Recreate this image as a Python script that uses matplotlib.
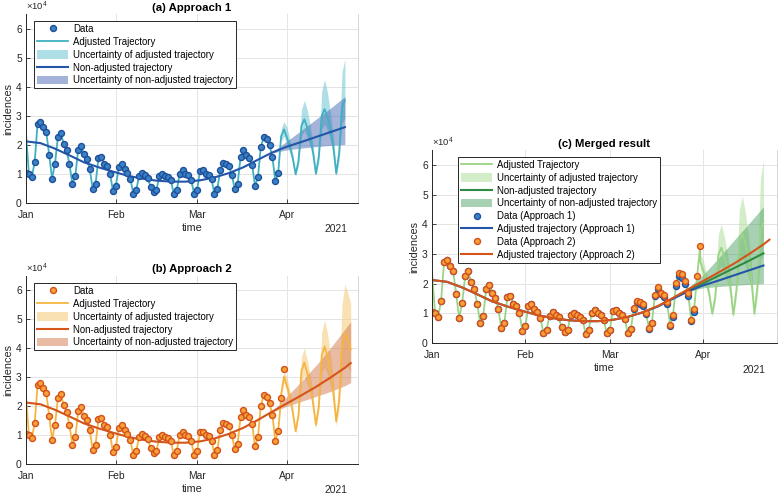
import numpy as np
import pandas as pd
import matplotlib
matplotlib.use("Agg")
import matplotlib.pyplot as plt
import matplotlib.dates as mdates
from matplotlib.lines import Line2D
from matplotlib.patches import Patch

plt.rcParams['font.family'] = ['Liberation Sans', 'DejaVu Sans']
plt.rcParams['mathtext.fontset'] = 'custom'
plt.rcParams['mathtext.rm'] = 'Liberation Sans'

# all values in thousands of incidences
# daily data, approach 1: 2021-01-01 .. 2021-03-29
data1 = [10.3, 10.1, 8.8, 14.1, 27.3, 27.9, 26.1, 24.4, 16.6, 8.4, 13.5, 22.6, 24.1, 20.4, 18.1, 13.3,
         6.6, 9.2, 18.3, 19.5, 16.7, 15.1, 11.6, 4.9, 6.6, 15.5, 15.8, 13.3, 12.6, 10.1, 4.1,
         5.8, 12.4, 13.3, 11.6, 10.3, 8.4, 3.2, 4.4, 9.2, 10.3, 9.5, 8.6, 5.5, 3.8, 4.4, 9.3,
         10.1, 9.3, 8.9, 7.8, 3.0, 4.4, 10.1, 11.2, 10.1, 9.5, 7.8, 3.2,
         4.4, 10.9, 11.2, 10.1, 9.5, 8.1, 3.2, 4.7, 11.5, 13.9, 13.3, 12.6, 9.7, 4.8, 6.6, 15.8,
         18.1, 16.4, 15.6, 13.2, 5.8, 8.9, 19.3, 22.7, 21.9, 19.8, 15.8, 7.5, 10.3]
# daily data, approach 2: 2021-01-01 .. 2021-03-31 (later days revised)
data2 = data1[:67] + [11.8, 14.2, 13.7, 13.0, 10.1, 5.1, 6.9, 16.3, 18.7, 17.0, 16.2, 13.8, 6.2,
                      9.3, 20.1, 23.7, 23.1, 21.0, 16.8, 7.9, 11.4, 22.6, 32.6]

# adjusted trajectories: fitted start value + forecast part
adj1_start, adj2_start, adjc_start = 23.9, 23.5, 23.8
# approach 1 forecast 2021-03-30 .. 2021-04-21
adj1_fc = [23.0, 25.3, 22.5, 19.5, 15.5, 9.9, 14.5, 26.5, 28.8, 26.0, 22.5, 17.5, 10.1, 16.0,
           30.0, 32.3, 29.5, 25.5, 19.5, 10.2, 17.0, 33.0, 35.3]
adj1_hi = [25.5, 28.0, 26.0, 22.0, 17.0, 10.5, 16.5, 32.0, 35.3, 32.0, 27.0, 20.0, 11.0, 18.5,
           38.5, 42.5, 38.0, 31.0, 23.0, 11.5, 20.5, 45.0, 49.5]
adj1_lo = [21.0, 23.0, 20.0, 17.5, 14.0, 9.3, 13.0, 23.0, 25.0, 22.5, 19.5, 15.5, 9.3, 14.0,
           25.5, 27.0, 25.0, 21.5, 16.5, 9.2, 14.5, 27.5, 29.0]
# approach 2 forecast 2021-03-30 .. 2021-04-23
adj2_fc = [24.0, 30.2, 27.0, 23.0, 18.0, 11.3, 17.0, 32.0, 35.0, 31.5, 27.5, 21.0, 13.5, 20.0,
           37.5, 40.5, 37.0, 32.0, 25.0, 14.7, 22.0, 41.0, 45.0, 43.0, 39.5]
adj2_hi = [25.0, 32.0, 30.0, 25.5, 20.0, 12.0, 19.0, 37.0, 40.0, 36.0, 31.0, 24.0, 14.5, 23.0,
           45.5, 49.7, 45.0, 38.0, 29.0, 16.0, 26.0, 55.0, 62.0, 59.0, 55.5]
adj2_lo = [23.0, 28.0, 24.5, 21.0, 16.5, 10.5, 15.5, 28.0, 30.5, 27.5, 24.5, 18.5, 12.3, 18.0,
           31.5, 33.5, 31.0, 27.0, 21.5, 13.2, 19.0, 32.0, 34.5, 33.5, 31.5]
# merged forecast 2021-03-31 .. 2021-04-21
adjc_fc = [27.4, 24.5, 21.0, 16.5, 9.9, 15.5, 29.5, 32.1, 29.0, 25.0, 19.0, 9.5, 17.5, 34.0,
           37.0, 33.5, 28.5, 21.5, 9.9, 19.0, 38.0, 40.9]
adjc_hi = [30.0, 28.0, 24.0, 18.5, 11.0, 18.0, 36.5, 40.0, 36.0, 30.5, 23.0, 11.0, 21.0, 45.0,
           49.5, 44.0, 36.5, 27.0, 11.5, 23.5, 55.0, 61.5]
adjc_lo = [25.0, 21.5, 18.5, 14.5, 8.8, 13.5, 24.5, 26.0, 23.5, 20.5, 16.0, 8.3, 15.0, 27.0,
           28.5, 26.0, 22.5, 17.5, 8.5, 15.5, 28.0, 29.5]

# non-adjusted trajectories, every 5 days from 2021-01-01
non1 = [21.2, 20.6, 18.7, 16.4, 14.0, 12.3, 10.8, 9.4, 8.4, 7.7, 7.35, 7.35, 7.8, 8.8, 10.3,
        12.3, 14.9, 17.4, 19.4, 21.0, 22.7, 24.4, 26.1]
non2 = [21.2, 20.6, 18.7, 16.4, 14.0, 12.3, 10.8, 9.4, 8.4, 7.7, 7.35, 7.35, 7.8, 8.8, 10.4,
        12.5, 15.2, 18.1, 20.9, 23.7, 26.6, 29.8, 33.2, 34.8]   # last one 2021-04-23
# uncertainty of non-adjusted, 2021-03-27 .. 2021-04-21 every 5 days
non1_hi = [17.6, 21.3, 25.0, 28.8, 32.6, 36.6]
non1_lo = [17.2, 18.3, 18.9, 19.4, 19.8, 20.1]
non2_hi = [18.3, 23.3, 28.5, 34.0, 40.0, 46.5, 49.1]  # + 2021-04-23
non2_lo = [17.9, 19.9, 21.6, 23.3, 25.0, 27.0, 28.1]
# merged non-adjusted, 2021-03-22 .. 2021-04-21 every 5 days
nonc = [15.1, 17.8, 20.1, 22.6, 25.1, 27.6, 30.2]
nonc_hi = [15.2, 18.6, 23.0, 28.5, 34.3, 40.0, 45.9]
nonc_lo = [15.0, 17.2, 18.6, 19.0, 19.4, 19.7, 20.0]

K = 1000.0
d1 = pd.date_range('2021-01-01', periods=len(data1))
d2 = pd.date_range('2021-01-01', periods=len(data2))
fc1 = pd.date_range('2021-03-30', periods=len(adj1_fc))
fc2 = pd.date_range('2021-03-30', periods=len(adj2_fc))
fcc = pd.date_range('2021-03-31', periods=len(adjc_fc))
k5 = pd.date_range('2021-01-01', '2021-04-21', freq='5D')
k5b = k5.append(pd.DatetimeIndex(['2021-04-23']))
b1 = pd.date_range('2021-03-27', periods=len(non1_hi), freq='5D')
b2 = b1.append(pd.DatetimeIndex(['2021-04-23']))
bc = pd.date_range('2021-03-22', periods=len(nonc), freq='5D')

adj1 = np.array([adj1_start] + data1[1:] + adj1_fc)
adj1_d = d1.append(fc1)
adj2 = np.array([adj2_start] + data2[1:89] + adj2_fc)
adj2_d = d2[:89].append(fc2)
adjc = np.array([adjc_start] + data2[1:90] + adjc_fc)
adjc_d = d2.append(fcc)

DARK = '#262626'


def style(ax, title):
    ax.set_xlim(pd.Timestamp('2021-01-01'), pd.Timestamp('2021-04-25 12:00'))
    ax.set_ylim(0, 65000)
    ax.set_yticks(np.arange(0, 60001, 10000))
    ax.set_yticklabels([str(i) for i in range(7)])
    ax.xaxis.set_major_locator(mdates.MonthLocator())
    ax.xaxis.set_major_formatter(mdates.DateFormatter('%b'))
    ax.grid(True, color='#e4e4e4', lw=0.7)
    ax.set_axisbelow(True)
    ax.tick_params(direction='in', length=3, width=0.6, labelsize=7.4, colors=DARK, pad=3)
    ax.tick_params(axis='x', pad=5)
    for s in ['left', 'bottom']:
        ax.spines[s].set_color(DARK)
        ax.spines[s].set_linewidth(0.7)
    ax.spines['top'].set_visible(False)
    ax.spines['right'].set_color('#d0d0d0')
    ax.spines['right'].set_linewidth(0.6)
    ax.set_title(title, fontsize=8.2, fontweight='bold', pad=2.5, color='black')
    ax.set_xlabel('time', fontsize=7.8, labelpad=2, color=DARK)
    ax.set_ylabel('incidences', fontsize=7.8, labelpad=2, color=DARK)
    ax.text(0.0, 1.003, r'$\times\mathregular{10^{4}}$', transform=ax.transAxes,
            fontsize=6.8, color=DARK, ha='left', va='bottom')
    ax.text(0.967, -0.138, '2021', transform=ax.transAxes, fontsize=7.4,
            color=DARK, ha='right', va='center')


def legend(ax, handles, labels, x, y):
    lg = ax.legend(handles, labels, loc='upper left', bbox_to_anchor=(x, y),
                   borderaxespad=0, fontsize=6.9, frameon=True, fancybox=False,
                   edgecolor=DARK, framealpha=1, handlelength=3.3, handleheight=1.0,
                   labelspacing=0.3, borderpad=0.3, handletextpad=0.5)
    lg.get_frame().set_linewidth(0.7)


fig = plt.figure(figsize=(7.78, 4.96), dpi=100)
axa = fig.add_axes([0.0334, 0.5907, 0.4267, 0.381])
axb = fig.add_axes([0.0334, 0.0645, 0.4267, 0.380])
axc = fig.add_axes([0.5553, 0.3085, 0.4434, 0.389])

# ---- (a) Approach 1
A_FACE, A_EDGE, A_ADJ, A_NON = '#3b82c4', '#1d4f9c', '#3fb0c2', '#2356a8'
A_BAND1, A_BAND2 = '#6cc6d2', '#4868b4'
axa.fill_between(fc1, np.array(adj1_lo) * K, np.array(adj1_hi) * K, color=A_BAND1, alpha=0.55, lw=0)
axa.fill_between(b1, np.array(non1_lo) * K, np.array(non1_hi) * K, color=A_BAND2, alpha=0.5, lw=0)
axa.plot(adj1_d, adj1 * K, color=A_ADJ, lw=1.3)
axa.plot(k5, np.array(non1) * K, color=A_NON, lw=1.5)
axa.plot(d1, np.array(data1) * K, 'o', ms=4.3, mfc=A_FACE, mec=A_EDGE, mew=1.0, ls='none')
style(axa, '(a) Approach 1')
legend(axa,
       [Line2D([], [], marker='o', ms=4.3, mfc=A_FACE, mec=A_EDGE, mew=1.0, ls='none'),
        Line2D([], [], color=A_ADJ, lw=1.3),
        Patch(fc=A_BAND1, alpha=0.55, lw=0),
        Line2D([], [], color=A_NON, lw=1.5),
        Patch(fc=A_BAND2, alpha=0.5, lw=0)],
       ['Data', 'Adjusted Trajectory', 'Uncertainty of adjusted trajectory',
        'Non-adjusted trajectory', 'Uncertainty of non-adjusted trajectory'], 0.024, 0.963)

# ---- (b) Approach 2
B_FACE, B_EDGE, B_ADJ, B_NON = '#f6a13a', '#d4501a', '#f5b540', '#d4541a'
B_BAND1, B_BAND2 = '#f8cd82', '#d4784c'
axb.fill_between(fc2, np.array(adj2_lo) * K, np.array(adj2_hi) * K, color=B_BAND1, alpha=0.6, lw=0)
axb.fill_between(b2, np.array(non2_lo) * K, np.array(non2_hi) * K, color=B_BAND2, alpha=0.5, lw=0)
axb.plot(adj2_d, adj2 * K, color=B_ADJ, lw=1.3)
axb.plot(k5b, np.array(non2) * K, color=B_NON, lw=1.5)
axb.plot(d2, np.array(data2) * K, 'o', ms=4.3, mfc=B_FACE, mec=B_EDGE, mew=1.0, ls='none')
style(axb, '(b) Approach 2')
legend(axb,
       [Line2D([], [], marker='o', ms=4.3, mfc=B_FACE, mec=B_EDGE, mew=1.0, ls='none'),
        Line2D([], [], color=B_ADJ, lw=1.3),
        Patch(fc=B_BAND1, alpha=0.6, lw=0),
        Line2D([], [], color=B_NON, lw=1.5),
        Patch(fc=B_BAND2, alpha=0.5, lw=0)],
       ['Data', 'Adjusted Trajectory', 'Uncertainty of adjusted trajectory',
        'Non-adjusted trajectory', 'Uncertainty of non-adjusted trajectory'], 0.024, 0.960)

# ---- (c) Merged result
C_ADJ, C_NON, C_BAND1, C_BAND2 = '#9bd486', '#2e8b45', '#b5e1a3', '#3f9a58'
axc.fill_between(fcc, np.array(adjc_lo) * K, np.array(adjc_hi) * K, color=C_BAND1, alpha=0.6, lw=0)
axc.plot(adjc_d, adjc * K, color=C_ADJ, lw=1.3)
axc.fill_between(bc, np.array(nonc_lo) * K, np.array(nonc_hi) * K, color=C_BAND2, alpha=0.45, lw=0)
axc.plot(bc, np.array(nonc) * K, color=C_NON, lw=1.5)
axc.plot(d1, np.array(data1) * K, 'o', ms=4.3, mfc=A_FACE, mec=A_EDGE, mew=1.0, ls='none')
axc.plot(k5, np.array(non1) * K, color=A_NON, lw=1.5)
axc.plot(d2, np.array(data2) * K, 'o', ms=4.3, mfc=B_FACE, mec=B_EDGE, mew=1.0, ls='none')
axc.plot(k5b, np.array(non2) * K, color=B_NON, lw=1.5)
style(axc, '(c) Merged result')
legend(axc,
       [Line2D([], [], color=C_ADJ, lw=1.3),
        Patch(fc=C_BAND1, alpha=0.6, lw=0),
        Line2D([], [], color=C_NON, lw=1.5),
        Patch(fc=C_BAND2, alpha=0.45, lw=0),
        Line2D([], [], marker='o', ms=4.3, mfc=A_FACE, mec=A_EDGE, mew=1.0, ls='none'),
        Line2D([], [], color=A_NON, lw=1.5),
        Line2D([], [], marker='o', ms=4.3, mfc=B_FACE, mec=B_EDGE, mew=1.0, ls='none'),
        Line2D([], [], color=B_NON, lw=1.5)],
       ['Adjusted Trajectory', 'Uncertainty of adjusted trajectory', 'Non-adjusted trajectory',
        'Uncertainty of non-adjusted trajectory', 'Data (Approach 1)',
        'Adjusted trajectory (Approach 1)', 'Data (Approach 2)',
        'Adjusted trajectory (Approach 2)'], 0.075, 0.964)

fig.savefig('out.png', dpi=100)
